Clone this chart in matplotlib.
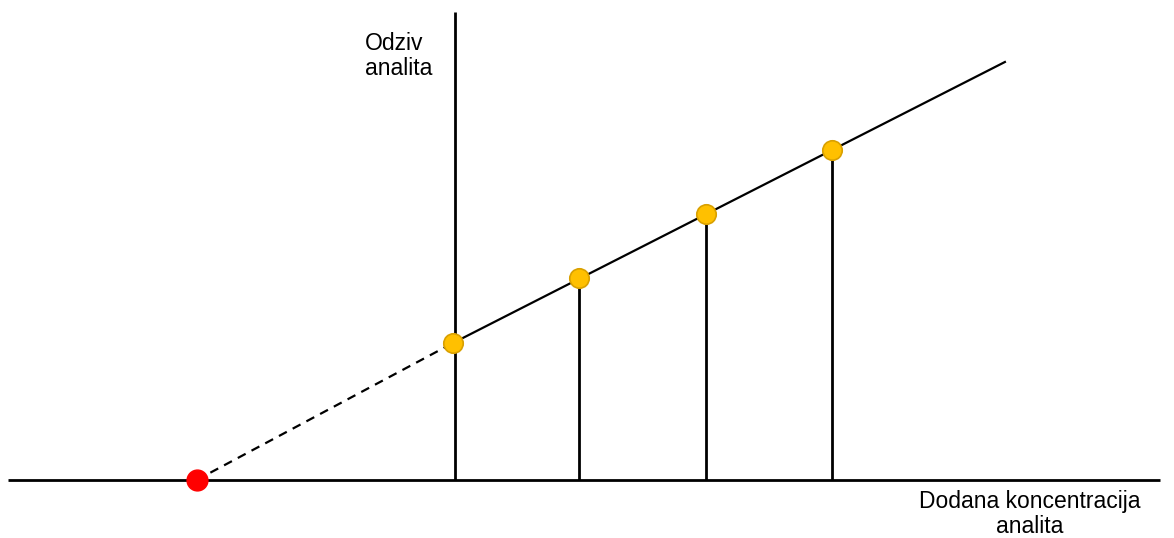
import matplotlib
matplotlib.use('Agg')
import matplotlib.pyplot as plt

# standard addition data (arbitrary units)
added = [0, 1, 2, 3]
response = [1.37, 2.02, 2.66, 3.30]
x_intercept = -2.03
line_end = (4.37, 4.18)

plt.rcParams['font.family'] = ['Liberation Sans', 'DejaVu Sans']

fig = plt.figure(figsize=(11.74, 5.38), dpi=100)
ax = fig.add_axes([0, 0, 1, 1])
ax.set_xlim(-3.587, 5.709)
ax.set_ylim(-0.58, 4.80)
ax.axis('off')

# axes lines
ax.plot([-3.52, 5.60], [0, 0], color='black', lw=2.0, solid_capstyle='butt')
ax.plot([0.016, 0.016], [0, 4.68], color='black', lw=2.0, solid_capstyle='butt')

# drop lines
for x, y in zip(added[1:], response[1:]):
    ax.plot([x, x], [0, y], color='black', lw=2.0, solid_capstyle='butt')

# fit line and extrapolation
ax.plot([added[0], line_end[0]], [response[0], line_end[1]], color='black', lw=1.6)
ax.plot([x_intercept, added[0]], [0, response[0]], color='black', lw=1.6, ls=(0, (4, 3)))

ax.plot(added, response, 'o', ms=14, color='#FFC000', mec='#D9A000', mew=1.2, zorder=5)
ax.plot([x_intercept], [0], 'o', ms=15, color='#FF0000', mec='#FF0000', zorder=5)

ax.text(-0.70, 4.24, 'Odziv\nanalita', fontsize=16.5, ha='left', va='center', linespacing=1.1)
ax.text(4.57, -0.34, 'Dodana koncentracija\nanalita', fontsize=16.5, ha='center', va='center',
        linespacing=1.1)

fig.savefig('out.png', dpi=100)
